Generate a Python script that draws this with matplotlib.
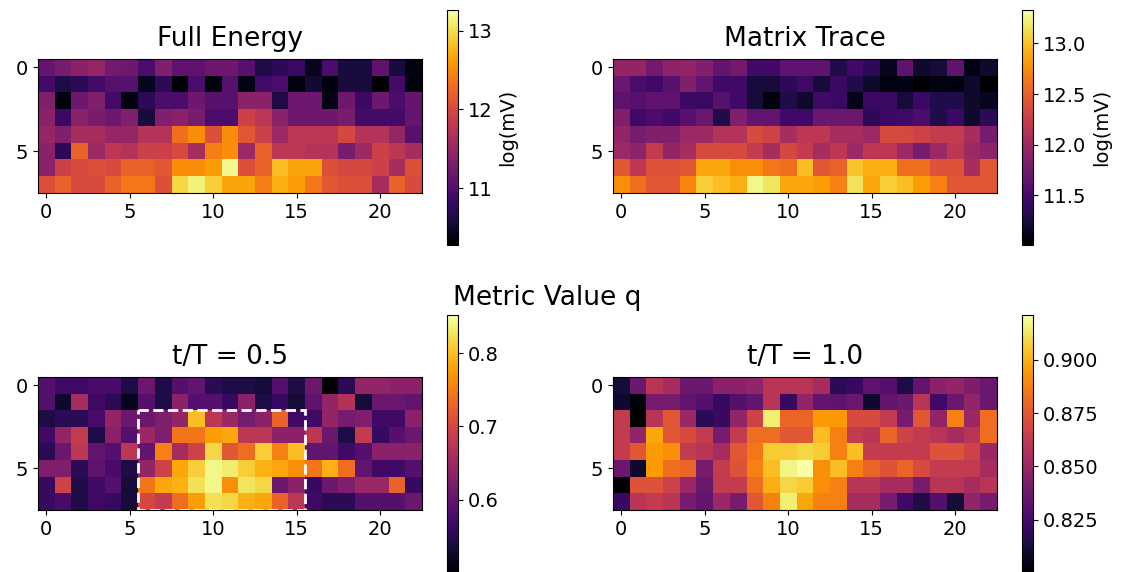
import numpy as np
import matplotlib
matplotlib.use("Agg")
import matplotlib.pyplot as plt
from matplotlib.patches import Rectangle

# --- data (8 rows x 23 columns per map) ---
full_energy = [
    [11.13, 11.27, 11.42, 11.48, 11.24, 11.19, 10.95, 11.33, 11.10, 11.10, 11.19, 11.19, 11.04, 10.65, 10.74, 10.83, 10.45, 10.95, 10.60, 10.60, 11.10, 10.60, 10.39],
    [10.89, 10.65, 10.74, 10.89, 11.04, 11.04, 10.45, 10.74, 10.30, 10.95, 10.36, 11.04, 10.39, 10.89, 10.95, 10.36, 10.54, 10.36, 10.60, 10.60, 10.30, 10.89, 10.36],
    [11.33, 10.36, 11.19, 11.33, 10.89, 10.36, 10.74, 10.95, 10.95, 11.19, 11.04, 11.04, 11.42, 11.42, 10.65, 11.19, 11.19, 10.39, 11.19, 10.83, 11.19, 10.95, 11.13],
    [11.42, 10.83, 11.42, 11.27, 11.19, 11.33, 10.60, 11.33, 11.42, 11.27, 10.95, 10.95, 11.92, 11.78, 11.42, 11.19, 11.19, 11.19, 11.27, 10.89, 10.89, 10.89, 11.13],
    [11.48, 11.33, 11.63, 11.63, 11.48, 11.48, 11.72, 11.72, 12.31, 12.51, 12.07, 12.51, 12.13, 11.92, 11.54, 11.78, 11.78, 11.78, 11.98, 11.72, 11.72, 11.48, 11.04],
    [11.42, 10.74, 12.22, 11.54, 11.78, 11.72, 11.92, 11.92, 12.01, 11.63, 12.42, 12.51, 11.54, 12.22, 11.78, 11.78, 11.72, 11.72, 11.27, 11.54, 11.92, 11.78, 11.63],
    [11.42, 11.92, 12.01, 12.07, 12.01, 12.22, 12.22, 12.13, 12.51, 12.51, 12.60, 13.19, 12.07, 12.22, 12.81, 12.66, 12.66, 12.07, 11.98, 11.98, 11.92, 11.63, 12.07],
    [12.07, 12.22, 12.01, 12.01, 12.22, 12.37, 12.37, 12.07, 12.96, 13.13, 12.90, 12.66, 12.66, 12.42, 12.72, 12.60, 12.37, 12.13, 12.07, 12.07, 11.63, 12.22, 12.01],
]

matrix_trace = [
    [11.94, 11.94, 11.76, 11.90, 11.94, 11.83, 11.67, 11.76, 11.48, 11.48, 11.64, 11.64, 11.64, 11.30, 11.48, 11.37, 11.14, 11.64, 11.20, 11.25, 11.64, 11.09, 11.20],
    [11.71, 11.53, 11.48, 11.60, 11.83, 11.67, 11.48, 11.48, 11.25, 11.25, 11.37, 11.48, 11.25, 11.44, 11.30, 11.20, 11.09, 11.09, 11.02, 11.09, 11.07, 11.20, 11.02],
    [11.64, 11.60, 11.64, 11.64, 11.44, 11.44, 11.60, 11.48, 11.25, 11.07, 11.30, 11.20, 11.48, 11.44, 11.11, 11.44, 11.44, 11.25, 11.44, 11.30, 11.30, 11.20, 11.14],
    [11.83, 11.48, 11.53, 11.48, 11.60, 11.71, 11.30, 11.83, 11.67, 11.67, 11.48, 11.48, 11.71, 11.71, 11.71, 11.37, 11.44, 11.48, 11.53, 11.30, 11.44, 11.20, 11.37],
    [11.94, 11.78, 11.83, 11.83, 11.99, 11.99, 12.13, 12.13, 12.36, 12.29, 12.06, 12.18, 12.18, 12.06, 12.06, 11.99, 12.36, 12.34, 12.29, 12.22, 12.22, 12.06, 11.78],
    [11.99, 11.90, 12.22, 11.94, 12.06, 12.36, 12.36, 12.36, 12.22, 12.06, 12.34, 12.22, 12.06, 12.18, 11.99, 12.18, 12.18, 11.99, 11.78, 11.99, 12.18, 11.99, 11.90],
    [12.45, 12.18, 12.41, 12.41, 12.45, 12.87, 12.87, 12.75, 12.75, 12.64, 12.59, 12.98, 12.45, 12.52, 13.01, 12.91, 12.91, 12.59, 12.59, 12.41, 12.41, 12.06, 12.45],
    [12.75, 12.59, 12.45, 12.45, 12.71, 13.05, 12.98, 12.91, 13.26, 13.17, 12.87, 12.87, 12.82, 12.68, 13.15, 12.87, 13.05, 12.98, 12.82, 12.68, 12.45, 12.45, 12.45],
]

q_half = [
    [0.588, 0.570, 0.570, 0.577, 0.577, 0.542, 0.606, 0.542, 0.588, 0.599, 0.553, 0.542, 0.542, 0.535, 0.588, 0.542, 0.606, 0.500, 0.553, 0.641, 0.641, 0.634, 0.634],
    [0.588, 0.528, 0.658, 0.570, 0.553, 0.518, 0.588, 0.542, 0.634, 0.588, 0.588, 0.563, 0.634, 0.542, 0.563, 0.535, 0.595, 0.641, 0.669, 0.535, 0.606, 0.606, 0.599],
    [0.542, 0.553, 0.553, 0.577, 0.641, 0.606, 0.606, 0.623, 0.641, 0.799, 0.676, 0.648, 0.616, 0.634, 0.729, 0.570, 0.570, 0.641, 0.616, 0.623, 0.570, 0.570, 0.634],
    [0.570, 0.641, 0.683, 0.542, 0.634, 0.588, 0.648, 0.623, 0.746, 0.746, 0.775, 0.782, 0.676, 0.676, 0.634, 0.634, 0.676, 0.606, 0.542, 0.683, 0.563, 0.588, 0.606],
    [0.553, 0.606, 0.676, 0.599, 0.588, 0.676, 0.599, 0.753, 0.658, 0.694, 0.817, 0.718, 0.739, 0.810, 0.753, 0.799, 0.599, 0.599, 0.570, 0.588, 0.634, 0.634, 0.634],
    [0.623, 0.623, 0.553, 0.595, 0.577, 0.542, 0.641, 0.694, 0.782, 0.810, 0.841, 0.834, 0.810, 0.789, 0.782, 0.764, 0.746, 0.789, 0.739, 0.599, 0.570, 0.570, 0.588],
    [0.563, 0.694, 0.542, 0.570, 0.588, 0.535, 0.746, 0.782, 0.789, 0.824, 0.841, 0.764, 0.827, 0.817, 0.606, 0.634, 0.563, 0.606, 0.623, 0.648, 0.648, 0.729, 0.563],
    [0.563, 0.577, 0.542, 0.570, 0.563, 0.535, 0.701, 0.683, 0.739, 0.775, 0.824, 0.817, 0.789, 0.782, 0.729, 0.676, 0.570, 0.553, 0.553, 0.588, 0.588, 0.588, 0.606],
]

q_full = [
    [0.812, 0.836, 0.860, 0.854, 0.836, 0.836, 0.846, 0.846, 0.848, 0.860, 0.860, 0.860, 0.854, 0.818, 0.822, 0.833, 0.830, 0.815, 0.834, 0.846, 0.848, 0.842, 0.836],
    [0.810, 0.802, 0.840, 0.840, 0.834, 0.830, 0.822, 0.830, 0.834, 0.860, 0.822, 0.848, 0.834, 0.833, 0.836, 0.810, 0.834, 0.836, 0.860, 0.824, 0.836, 0.848, 0.836],
    [0.863, 0.800, 0.860, 0.875, 0.851, 0.818, 0.822, 0.848, 0.867, 0.915, 0.879, 0.879, 0.894, 0.894, 0.870, 0.870, 0.863, 0.840, 0.875, 0.848, 0.887, 0.851, 0.882],
    [0.863, 0.848, 0.897, 0.875, 0.870, 0.863, 0.840, 0.863, 0.882, 0.882, 0.875, 0.875, 0.903, 0.887, 0.863, 0.860, 0.879, 0.867, 0.863, 0.860, 0.854, 0.860, 0.882],
    [0.863, 0.875, 0.894, 0.891, 0.863, 0.860, 0.854, 0.875, 0.885, 0.906, 0.906, 0.909, 0.906, 0.887, 0.903, 0.863, 0.863, 0.863, 0.863, 0.873, 0.873, 0.867, 0.851],
    [0.836, 0.810, 0.894, 0.882, 0.879, 0.840, 0.863, 0.873, 0.887, 0.903, 0.917, 0.921, 0.891, 0.903, 0.887, 0.879, 0.873, 0.879, 0.870, 0.863, 0.863, 0.863, 0.854],
    [0.800, 0.873, 0.873, 0.867, 0.851, 0.836, 0.863, 0.863, 0.882, 0.899, 0.909, 0.906, 0.891, 0.887, 0.860, 0.860, 0.854, 0.854, 0.840, 0.860, 0.860, 0.854, 0.860],
    [0.822, 0.860, 0.863, 0.860, 0.840, 0.834, 0.851, 0.840, 0.875, 0.887, 0.915, 0.897, 0.887, 0.887, 0.854, 0.854, 0.840, 0.824, 0.815, 0.830, 0.812, 0.848, 0.840],
]

titles = ["Full Energy", "Matrix Trace", "t/T = 0.5", "t/T = 1.0"]
cbar_labels = ["log(mV)", "log(mV)", None, None]
limits = [(10.28, 13.26), (11.01, 13.33), (0.50, 0.852), (0.80, 0.921)]
cbar_ticks = [[11, 12, 13], [11.5, 12.0, 12.5, 13.0], [0.6, 0.7, 0.8],
              [0.825, 0.850, 0.875, 0.900]]
cbar_fmt = ["%d", "%.1f", "%.1f", "%.3f"]
# highlighted region on the t/T = 0.5 map: columns 6-15, rows 2-7
region_cols = (6, 15)
region_rows = (2, 7)

# --- layout in pixels (left, top, width, height) ---
W, H = 1134, 572
def box(x, y, w, h):
    return [x / W, 1 - (y + h) / H, w / W, h / H]

map_boxes = [box(38, 59, 384, 134), box(613, 59, 384, 134),
             box(38, 377, 384, 133), box(613, 377, 384, 133)]
cbar_boxes = [box(447, 10, 11, 235), box(1022, 10, 11, 235),
              box(447, 315, 11, 258), box(1022, 315, 11, 258)]

fig = plt.figure(figsize=(W / 100, H / 100), dpi=100)
data = [full_energy, matrix_trace, q_half, q_full]

for i in range(4):
    ax = fig.add_axes(map_boxes[i])
    vmin, vmax = limits[i]
    im = ax.imshow(np.array(data[i]), cmap="inferno", vmin=vmin, vmax=vmax,
                   aspect="auto", interpolation="nearest")
    ax.set_title(titles[i], fontsize=19, pad=9)
    ax.set_xticks([0, 5, 10, 15, 20])
    ax.set_yticks([0, 5])
    ax.tick_params(labelsize=14)
    cax = fig.add_axes(cbar_boxes[i])
    cb = fig.colorbar(im, cax=cax, ticks=cbar_ticks[i], format=cbar_fmt[i])
    cb.ax.tick_params(labelsize=14)
    if cbar_labels[i]:
        cb.set_label(cbar_labels[i], fontsize=14)
    if i == 2:
        c0, c1 = region_cols
        r0, r1 = region_rows
        ax.add_patch(Rectangle((c0 - 0.5, r0 - 0.5), c1 - c0 + 1, r1 - r0 + 1,
                               fill=False, edgecolor="white", linestyle="--",
                               linewidth=2, clip_on=False))

fig.text(547 / W, 1 - 298 / H, "Metric Value q", ha="center", va="center",
         fontsize=19)

fig.savefig("out.png", dpi=100)
